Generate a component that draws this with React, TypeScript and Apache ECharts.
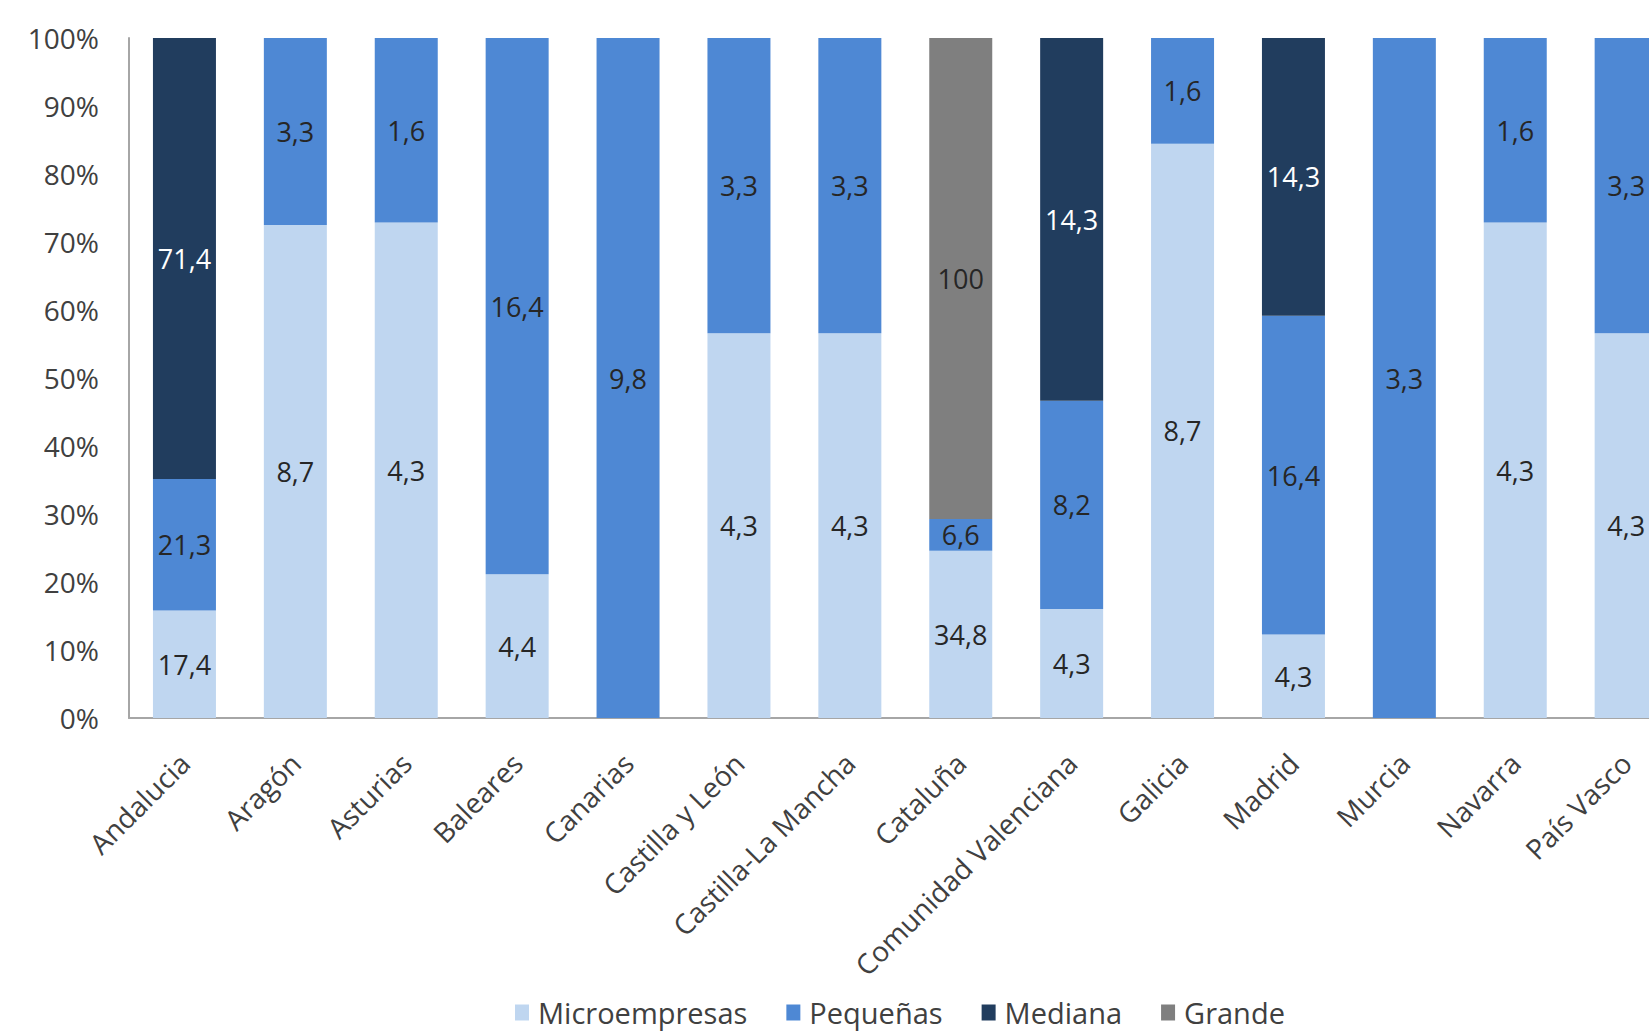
import React, { useEffect, useRef } from "react";
import * as echarts from "echarts";

const categories = [
  "Andalucia", "Aragón", "Asturias", "Baleares", "Canarias", "Castilla y León",
  "Castilla-La Mancha", "Cataluña", "Comunidad Valenciana", "Galicia", "Madrid",
  "Murcia", "Navarra", "País Vasco",
];
const microempresas = [17.4, 8.7, 4.3, 4.4, 0, 4.3, 4.3, 34.8, 4.3, 8.7, 4.3, 0, 4.3, 4.3];
const pequenas = [21.3, 3.3, 1.6, 16.4, 9.8, 3.3, 3.3, 6.6, 8.2, 1.6, 16.4, 3.3, 1.6, 3.3];
const mediana = [71.4, 0, 0, 0, 0, 0, 0, 0, 14.3, 0, 14.3, 0, 0, 0];
const grande = [0, 0, 0, 0, 0, 0, 0, 100, 0, 0, 0, 0, 0, 0];
const yTicks = [0, 10, 20, 30, 40, 50, 60, 70, 80, 90, 100];

const seriesDefs = [
  { name: "Microempresas", raw: microempresas, color: "#BFD6F0", text: "#262626" },
  { name: "Pequeñas", raw: pequenas, color: "#4E88D4", text: "#262626" },
  { name: "Mediana", raw: mediana, color: "#213D5E", text: "#FFFFFF" },
  { name: "Grande", raw: grande, color: "#7F7F7F", text: "#262626" },
];

const FONT = "Open Sans";

function fmt(v: number): string {
  if (!v) return "";
  return Number.isInteger(v) ? String(v) : v.toFixed(1).replace(".", ",");
}

export default function App() {
  const ref = useRef<HTMLDivElement>(null);
  useEffect(() => {
    if (!ref.current) return;
    const chart = echarts.init(ref.current, null, { renderer: "svg" });
    const totals = categories.map((_, i) =>
      seriesDefs.reduce((s, d) => s + d.raw[i], 0)
    );
    const bandCount = categories.length;
    const gridLeft = 129;
    const band = 110.9;
    chart.setOption({
      animation: false,
      backgroundColor: "#ffffff",
      textStyle: { fontFamily: FONT },
      grid: {
        left: gridLeft,
        top: 38,
        width: band * bandCount,
        height: 680,
        containLabel: false,
      },
      legend: {
        left: 515,
        top: 998,
        itemWidth: 14,
        itemHeight: 16,
        itemGap: 39,
        icon: "rect",
        padding: 0,
        textStyle: {
          fontFamily: FONT,
          fontSize: 29,
          color: "#404040",
          padding: [0, 0, 0, 4],
        },
        data: seriesDefs.map((d) => d.name),
      },
      xAxis: {
        type: "category",
        data: categories,
        axisLine: { show: true, lineStyle: { color: "#A6A6A6", width: 2 } },
        axisTick: { show: false },
        axisLabel: {
          rotate: 45,
          interval: 0,
          margin: 40,
          fontFamily: FONT,
          fontSize: 28,
          color: "#404040",
        },
      },
      yAxis: {
        type: "value",
        min: 0,
        max: 100,
        interval: 10,
        splitLine: { show: false },
        axisLine: { show: true, lineStyle: { color: "#A6A6A6", width: 2 } },
        axisTick: { show: false },
        axisLabel: {
          margin: 30,
          fontFamily: FONT,
          fontSize: 28,
          color: "#404040",
          formatter: (v: number) => (yTicks.includes(v) ? v + "%" : ""),
        },
      },
      series: seriesDefs.map((d) => ({
        name: d.name,
        type: "bar",
        stack: "total",
        barWidth: 63,
        itemStyle: { color: d.color },
        label: {
          show: true,
          position: "inside",
          fontFamily: FONT,
          fontSize: 27,
          color: d.text,
          formatter: (p: any) => fmt(d.raw[p.dataIndex]),
        },
        data: d.raw.map((v, i) => (v ? (v / totals[i]) * 100 : 0)),
      })),
    });
    return () => chart.dispose();
  }, []);
  return (
    <div
      style={{
        position: "fixed",
        left: 0,
        top: 0,
        width: 1649,
        height: 1034,
        overflow: "hidden",
        background: "#fff",
      }}
    >
      <div ref={ref} style={{ width: 1720, height: 1034 }} />
    </div>
  );
}
